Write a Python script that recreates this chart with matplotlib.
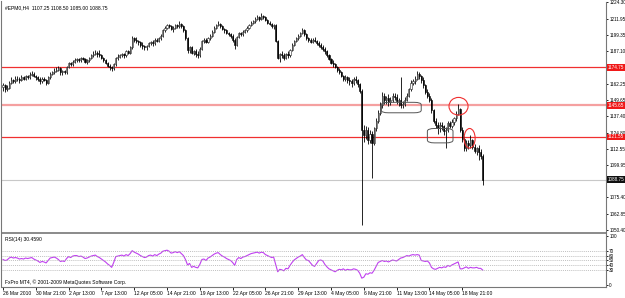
import matplotlib
matplotlib.use("Agg")
import matplotlib.pyplot as plt
from matplotlib.patches import Ellipse, FancyBboxPatch

plt.rcParams['font.family'] = ['Liberation Sans', 'DejaVu Sans']

symbol_title = "#EPM0,H4  1107.25 1108.50 1085.00 1088.75"
rsi_title = "RSI(14) 30.4590"
copyright_text = "FxPro MT4, \u00a9 2001-2009 MetaQuotes Software Corp."

opens = [
    1160,1161,1158,1159,1163,1165,1164,1166,1166,1165,
    1167,1166,1168,1167,1169,1170,1168,1167,1166,1164,
    1166,1165,1163,1167,1170,1171,1172,1173,1174,1171,
    1172,1171,1175,1178,1177,1179,1180,1181,1180,1182,
    1181,1179,1180,1182,1184,1185,1186,1185,1184,1182,
    1180,1178,1176,1175,1174,1177,1182,1183,1184,1185,
    1184,1187,1186,1190,1197,1196,1195,1194,1192,1191,
    1190,1191,1193,1194,1193,1196,1195,1197,1199,1203,
    1205,1207,1206,1204,1205,1207,1206,1208,1206,1203,
    1197,1188,1190,1186,1187,1185,1184,1189,1195,1196,
    1194,1197,1199,1202,1205,1207,1208,1206,1204,1203,
    1201,1200,1199,1196,1192,1198,1201,1200,1202,1203,
    1205,1207,1209,1210,1212,1213,1212,1214,1213,1211,
    1209,1208,1206,1207,1195,1182,1185,1184,1182,1185,
    1184,1188,1192,1195,1197,1199,1201,1203,1200,1197,
    1196,1194,1196,1195,1193,1192,1190,1189,1187,1184,
    1181,1178,1177,1175,1173,1171,1168,1166,1167,1165,
    1164,1163,1166,1165,1162,1157,1127,1123,1127,1119,
    1124,1117,1128,1134,1140,1146,1153,1150,1151,1148,
    1150,1153,1152,1149,1150,1146,1147,1150,1153,1158,
    1163,1164,1166,1170,1168,1165,1161,1156,1153,1150,
    1142,1134,1131,1128,1131,1130,1126,1127,1132,1130,
    1133,1136,1139,1143,1127,1120,1113,1117,1115,1119,
    1114,1111,1113,1110,1107.25,
]
highs = [
    1163,1162,1161,1164,1167,1166,1168,1168,1167,1169,
    1168,1169,1169,1171,1172,1171,1169,1168,1167,1167,
    1167,1166,1168,1171,1172,1174,1175,1176,1175,1173,
    1173,1176,1179,1179,1180,1182,1182,1182,1183,1183,
    1182,1181,1183,1185,1187,1188,1187,1188,1185,1183,
    1181,1179,1177,1176,1178,1183,1185,1185,1186,1186,
    1188,1188,1191,1199,1198,1198,1196,1195,1194,1192,
    1192,1194,1195,1196,1197,1197,1198,1200,1204,1206,
    1208,1208,1207,1206,1208,1208,1210,1209,1207,1204,
    1198,1191,1191,1188,1189,1187,1190,1196,1197,1197,
    1198,1200,1203,1206,1208,1210,1209,1207,1205,1204,
    1202,1201,1200,1197,1199,1202,1202,1203,1204,1206,
    1208,1210,1211,1213,1215,1214,1216,1215,1214,1212,
    1210,1209,1208,1208,1196,1186,1187,1186,1186,1187,
    1189,1193,1196,1198,1200,1202,1205,1204,1201,1198,
    1197,1197,1198,1196,1195,1193,1192,1190,1188,1185,
    1182,1180,1178,1176,1174,1172,1169,1169,1168,1167,
    1166,1167,1168,1166,1163,1158,1131,1130,1129,1127,
    1126,1129,1136,1142,1148,1156,1155,1153,1154,1152,
    1155,1155,1154,1151,1167,1149,1152,1155,1159,1165,
    1166,1168,1172,1171,1169,1167,1162,1158,1155,1151,
    1143,1136,1133,1133,1133,1131,1129,1134,1134,1135,
    1137,1141,1147,1144,1129,1122,1119,1119,1123,1120,
    1116,1114,1115,1112,1108.5,
]
lows = [
    1157,1156,1157,1158,1162,1163,1163,1164,1163,1164,
    1165,1165,1166,1166,1168,1167,1165,1164,1162,1163,
    1164,1161,1162,1166,1169,1170,1171,1172,1169,1169,
    1170,1170,1174,1176,1176,1178,1179,1179,1179,1180,
    1178,1177,1179,1181,1183,1184,1183,1183,1181,1179,
    1177,1175,1173,1172,1173,1176,1180,1182,1183,1182,
    1183,1185,1185,1189,1194,1193,1192,1190,1189,1188,
    1188,1190,1192,1191,1192,1194,1194,1196,1198,1202,
    1204,1205,1203,1202,1204,1205,1205,1205,1202,1196,
    1186,1186,1185,1184,1183,1182,1183,1188,1193,1193,
    1193,1196,1198,1201,1204,1206,1205,1203,1201,1200,
    1199,1197,1194,1189,1191,1197,1199,1199,1201,1202,
    1204,1206,1208,1209,1211,1210,1211,1212,1210,1208,
    1207,1205,1204,1194,1181,1179,1182,1180,1181,1182,
    1183,1187,1191,1194,1196,1198,1200,1199,1196,1194,
    1193,1193,1194,1192,1190,1189,1187,1185,1183,1180,
    1177,1175,1174,1171,1170,1167,1164,1164,1163,1161,
    1160,1161,1163,1160,1155,1054,1118,1120,1116,1117,
    1090,1115,1126,1132,1138,1144,1147,1147,1145,1146,
    1148,1150,1147,1145,1144,1144,1145,1149,1152,1157,
    1161,1162,1165,1166,1163,1159,1154,1151,1148,1140,
    1132,1128,1124,1125,1127,1123,1113,1125,1128,1128,
    1131,1134,1138,1125,1118,1111,1111,1112,1113,1112,
    1109,1108,1104,1105,1085,
]
closes = [
    1161,1158,1159,1163,1165,1164,1166,1166,1165,1167,
    1166,1168,1167,1169,1170,1168,1167,1166,1164,1166,
    1165,1163,1167,1170,1171,1172,1173,1174,1171,1172,
    1171,1175,1178,1177,1179,1180,1181,1180,1182,1181,
    1179,1180,1182,1184,1185,1186,1185,1184,1182,1180,
    1178,1176,1175,1174,1177,1182,1183,1184,1185,1184,
    1187,1186,1190,1197,1196,1195,1194,1192,1191,1190,
    1191,1193,1194,1193,1196,1195,1197,1199,1203,1205,
    1207,1206,1204,1205,1207,1206,1208,1206,1203,1197,
    1188,1190,1186,1187,1185,1184,1189,1195,1196,1194,
    1197,1199,1202,1205,1207,1208,1206,1204,1203,1201,
    1200,1199,1196,1192,1198,1201,1200,1202,1203,1205,
    1207,1209,1210,1212,1213,1212,1214,1213,1211,1209,
    1208,1206,1207,1195,1182,1185,1184,1182,1185,1184,
    1188,1192,1195,1197,1199,1201,1203,1200,1197,1196,
    1194,1196,1195,1193,1192,1190,1189,1187,1184,1181,
    1178,1177,1175,1173,1171,1168,1166,1167,1165,1164,
    1163,1166,1165,1162,1157,1127,1123,1127,1119,1124,
    1117,1128,1134,1140,1146,1153,1150,1151,1148,1150,
    1153,1152,1149,1150,1146,1147,1150,1153,1158,1163,
    1164,1166,1170,1168,1165,1161,1156,1153,1150,1142,
    1134,1131,1128,1131,1130,1126,1127,1132,1130,1133,
    1136,1139,1143,1127,1120,1113,1117,1115,1119,1114,
    1111,1113,1110,1107.25,1088.75,
]
rsi = [
    52,50,51,55,57,55,56,55,53,54,
    53,55,54,55,56,53,51,49,46,48,
    47,45,50,55,56,57,55,52,48,49,
    48,54,58,56,59,60,60,58,59,57,
    54,55,57,59,60,61,58,56,53,50,
    47,43,40,36,46,58,59,60,61,59,
    62,60,64,70,67,65,63,60,58,56,
    57,60,61,59,62,60,63,65,69,70,
    71,69,65,66,68,66,68,64,60,52,
    41,44,36,38,36,35,42,52,53,50,
    55,57,60,63,65,66,62,59,57,54,
    52,50,46,40,52,56,54,57,58,60,
    62,64,65,66,67,65,67,66,62,60,
    58,56,57,42,27,32,31,29,34,33,
    40,46,51,54,57,59,62,56,51,50,
    45,40,38,44,50,51,49,42,37,33,
    31,29,27,30,32,31,33,30,32,31,
    31,33,32,30,24,14,16,23,22,25,
    24,30,38,46,48,50,48,49,47,49,
    51,50,49,52,55,56,58,60,59,61,
    62,61,62,61,50,49,48,49,45,36,
    33,32,34,36,35,37,36,40,38,41,
    43,45,47,33,33,35,37,34,36,35,
    35,36,34,34,30.459,
]

date_labels = ["26 Mar 2010", "30 Mar 21:00", "2 Apr 13:00", "7 Apr 13:00",
               "12 Apr 05:00", "14 Apr 21:00", "19 Apr 13:00", "22 Apr 05:00",
               "26 Apr 21:00", "29 Apr 13:00", "4 May 05:00", "6 May 21:00",
               "11 May 13:00", "14 May 05:00", "18 May 21:00"]
date_label_bars = [0, 16, 32, 48, 64, 80, 96, 112, 128, 144, 160, 176, 192, 208, 224]

price_ticks = [1224.30, 1211.95, 1199.35, 1187.10, 1162.25, 1149.65, 1137.40,
               1124.80, 1112.55, 1099.95, 1075.40, 1062.85, 1050.40]
resistance_levels = [1174.75, 1145.65, 1121.55]
bid_level = 1088.75
rsi_levels = [70, 60, 50, 40, 30]
rsi_ticks = [100, 70, 60, 50, 40, 30, 0]

W, H = 625, 298
fig = plt.figure(figsize=(W/100, H/100), dpi=100)
fig.patch.set_facecolor('white')

def frac(x0, y0, x1, y1):
    return [x0/W, 1 - y1/H, (x1-x0)/W, (y1-y0)/H]

ax = fig.add_axes(frac(2, 2, 606, 232))
axr = fig.add_axes(frac(2, 233, 606, 287), sharex=ax)

FS = 3.6
n = len(closes)
idx = list(range(n))
px_per_bar = 2.05
xmin = -0.5
xmax = xmin + 604 / px_per_bar
ppp = 0.7627  # price per pixel
ax.set_xlim(xmin, xmax)
ax.set_ylim(1224.3 - 230*ppp, 1224.3 + 0.5*ppp)

# candles
ax.vlines(idx, lows, highs, color='black', lw=0.6, zorder=3)
up = [i for i in idx if closes[i] >= opens[i]]
dn = [i for i in idx if closes[i] < opens[i]]
ax.bar(up, [closes[i]-opens[i] for i in up], bottom=[opens[i] for i in up],
       width=0.55, color='white', edgecolor='#222222', lw=0.4, zorder=4)
ax.bar(dn, [opens[i]-closes[i] for i in dn], bottom=[closes[i] for i in dn],
       width=0.55, color='black', edgecolor='black', lw=0.4, zorder=4)

# horizontal levels
ax.axhline(resistance_levels[0], color='#f03030', lw=0.9, zorder=2)
ax.axhline(resistance_levels[1], color='#f5a0a0', lw=1.6, zorder=2)
ax.axhline(resistance_levels[2], color='#f03030', lw=0.9, zorder=2)
ax.axhline(bid_level, color='#c8c8c8', lw=0.8, zorder=1)

# annotations
ax.add_patch(FancyBboxPatch((184.5, 1140.0), 19.5, 8.0,
             boxstyle="round,pad=0,rounding_size=3.5", mutation_aspect=0.55,
             fill=False, ec='#555555', lw=0.7, zorder=5))
ax.add_patch(FancyBboxPatch((207.0, 1117.0), 12.5, 11.0,
             boxstyle="round,pad=0,rounding_size=3.5", mutation_aspect=0.6,
             fill=False, ec='#555555', lw=0.7, zorder=5))
ax.add_patch(Ellipse((222.2, 1145.0), 9.3, 13.5, fill=False, ec='#f03030', lw=0.8, zorder=5))
ax.add_patch(Ellipse((227.6, 1120.5), 5.4, 15.0, fill=False, ec='#f03030', lw=0.8, zorder=5))

ax.text(0.005, 0.985, symbol_title, transform=ax.transAxes, fontsize=FS,
        va='top', ha='left', color='black')

# right price axis
ax.yaxis.tick_right()
ax.set_yticks(price_ticks)
ax.set_yticklabels([f"{v:.2f}" for v in price_ticks])
ax.tick_params(axis='y', length=1.5, width=0.6, pad=0.8, labelsize=FS - 0.3, colors='black')
ax.tick_params(axis='x', length=0, labelbottom=False)
for sp in ['top', 'left', 'bottom']:
    ax.spines[sp].set_visible(False)
ax.spines['right'].set_color('#777777')
ax.spines['right'].set_linewidth(0.8)

for lvl, fc in [(resistance_levels[0], '#f01818'), (resistance_levels[1], '#f01818'),
                (resistance_levels[2], '#f01818'), (bid_level, '#101010')]:
    ax.text(1.0035, lvl, f"{lvl:.2f}", transform=ax.get_yaxis_transform(),
            fontsize=FS - 0.3, color='white', va='center', ha='left', clip_on=False,
            bbox=dict(boxstyle='square,pad=0.2', fc=fc, ec='none'), zorder=10)

# RSI panel
axr.set_ylim(0 - 4, 100 + 6)
axr.plot(idx, rsi, color='#c040f0', lw=0.8)
for lv in rsi_levels:
    axr.axhline(lv, color='#aaaaaa', lw=0.5, ls=(0, (1.5, 1.5)))
axr.yaxis.tick_right()
axr.set_yticks(rsi_ticks)
axr.set_yticklabels([str(v) for v in rsi_ticks])
axr.tick_params(axis='y', length=1.5, width=0.6, pad=0.8, labelsize=FS - 0.3)
axr.set_xticks(date_label_bars)
axr.set_xticklabels(date_labels)
for lbl in axr.get_xticklabels():
    lbl.set_horizontalalignment('left')
axr.tick_params(axis='x', length=2, width=0.6, pad=1, labelsize=FS)
for sp in ['top', 'left']:
    axr.spines[sp].set_visible(False)
axr.spines['right'].set_color('#777777')
axr.spines['bottom'].set_color('#777777')
axr.spines['right'].set_linewidth(0.8)
axr.spines['bottom'].set_linewidth(0.8)
axr.text(0.005, 0.93, rsi_title, transform=axr.transAxes, fontsize=FS, va='top', ha='left')
axr.text(0.005, 0.03, copyright_text, transform=axr.transAxes, fontsize=FS, va='bottom', ha='left')

# separator / border lines
fig.add_artist(plt.Line2D([2/W, 606/W], [1-232.5/H, 1-232.5/H], color='#777777', lw=1.2))
fig.add_artist(plt.Line2D([1.5/W, 1.5/W], [1-287/H, 1-1/H], color='#777777', lw=0.8))

fig.savefig("out.png", dpi=100, facecolor='white')
